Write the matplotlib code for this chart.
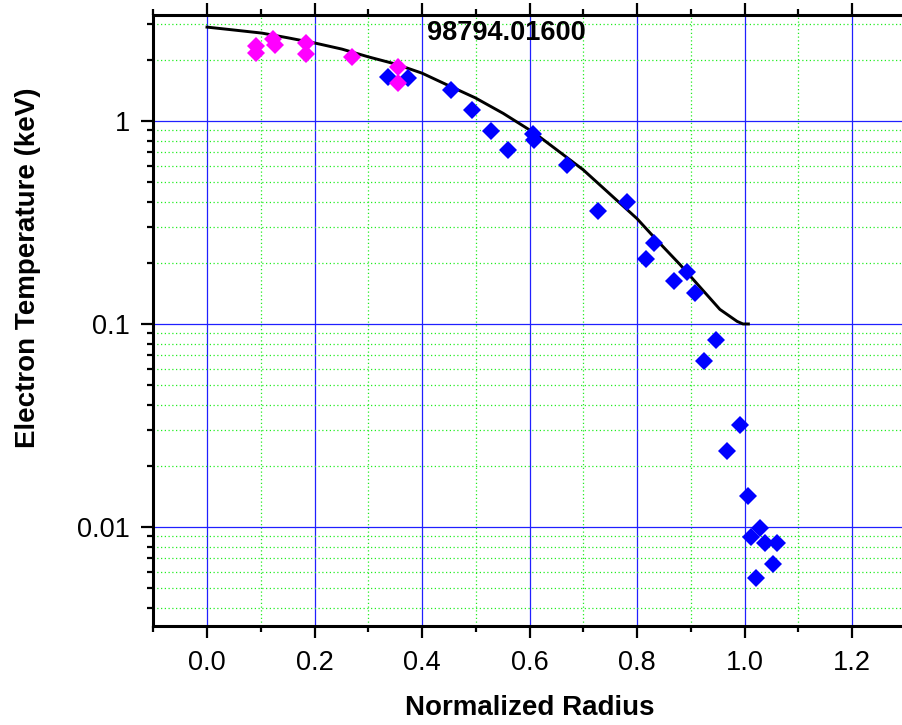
import matplotlib
matplotlib.use('Agg')
import matplotlib.pyplot as plt
from matplotlib.ticker import MultipleLocator, LogLocator, FixedLocator, FixedFormatter, NullFormatter

plt.rcParams['font.family'] = ['Liberation Sans', 'DejaVu Sans']

# fitted profile (black line)
fit_r = [0.0, 0.048, 0.102, 0.15, 0.201, 0.251, 0.300, 0.350, 0.400, 0.448, 0.499, 0.551,
         0.601, 0.620, 0.657, 0.700, 0.744, 0.800, 0.833, 0.880, 0.917, 0.954, 0.986, 0.997, 1.007]
fit_te = [2.90, 2.81, 2.71, 2.57, 2.42, 2.26, 2.07, 1.91, 1.72, 1.50, 1.30, 1.09,
          0.90, 0.83, 0.70, 0.574, 0.45, 0.33, 0.265, 0.196, 0.152, 0.118, 0.103, 0.100, 0.100]

# core channels (magenta)
core_r = [0.091, 0.091, 0.123, 0.126, 0.184, 0.184, 0.269, 0.355, 0.355]
core_te = [2.34, 2.16, 2.53, 2.37, 2.42, 2.14, 2.07, 1.85, 1.54]

# edge channels (blue)
edge_r = [0.336, 0.373, 0.453, 0.492, 0.528, 0.559, 0.606, 0.609, 0.669, 0.728, 0.782,
          0.817, 0.832, 0.869, 0.892, 0.907, 0.946, 0.925, 0.992, 0.968, 1.007, 1.029,
          1.012, 1.038, 1.061, 1.053, 1.022]
edge_te = [1.65, 1.63, 1.42, 1.13, 0.89, 0.72, 0.86, 0.81, 0.61, 0.36, 0.40,
           0.21, 0.25, 0.163, 0.18, 0.142, 0.083, 0.066, 0.0318, 0.0237, 0.0142, 0.0099,
           0.0089, 0.0083, 0.0083, 0.0066, 0.0056]

shot = '98794.01600'
x_major = [0.0, 0.2, 0.4, 0.6, 0.8, 1.0, 1.2]
x_labels = ['0.0', '0.2', '0.4', '0.6', '0.8', '1.0', '1.2']
y_major = [0.01, 0.1, 1]
y_labels = ['0.01', '0.1', '1']

fig = plt.figure(figsize=(9.03, 7.25), dpi=100)
ax = fig.add_axes([0.1697, 0.1366, 0.8335, 0.8427])

ax.set_yscale('log')
ax.set_xlim(-0.1, 1.3)
ax.set_ylim(0.003253, 3.327)

ax.plot(fit_r, fit_te, color='black', lw=2.1, zorder=3, solid_joinstyle='round')
ax.plot(edge_r, edge_te, 'D', color='#0000ff', ms=9.5, mew=0, zorder=4)
ax.plot(core_r, core_te, 'D', color='#ff00ff', ms=9.5, mew=0, zorder=5)

ax.xaxis.set_major_locator(FixedLocator(x_major))
ax.xaxis.set_major_formatter(FixedFormatter(x_labels))
ax.xaxis.set_minor_locator(MultipleLocator(0.1))
ax.yaxis.set_major_locator(FixedLocator(y_major))
ax.yaxis.set_major_formatter(FixedFormatter(y_labels))
ax.yaxis.set_minor_locator(LogLocator(base=10, subs=range(2, 10)))
ax.yaxis.set_minor_formatter(NullFormatter())

ax.set_axisbelow(True)
ax.grid(which='major', color='#2020ff', lw=0.9)
ax.grid(which='minor', color='#22ee22', lw=0.9, ls=(0, (1, 2)))

for s in ['left', 'bottom', 'top']:
    ax.spines[s].set_linewidth(2.2)
ax.spines['right'].set_visible(False)

ax.tick_params(which='major', direction='out', length=8.5, width=1.6, labelsize=19.5, pad=8.5,
               top=True, labeltop=False)
ax.tick_params(which='minor', direction='out', length=4.5, width=1.6, top=True)

ax.set_xlabel('Normalized Radius', fontsize=20, fontweight='bold', labelpad=14)
ax.set_ylabel('Electron Temperature (keV)', fontsize=20, fontweight='bold')
ax.yaxis.set_label_coords(-0.149, 0.586)

ax.text(0.469, 0.971, shot, transform=ax.transAxes, ha='center', va='center',
        fontsize=19.5, fontweight='bold')

fig.savefig('out.png', dpi=100)
